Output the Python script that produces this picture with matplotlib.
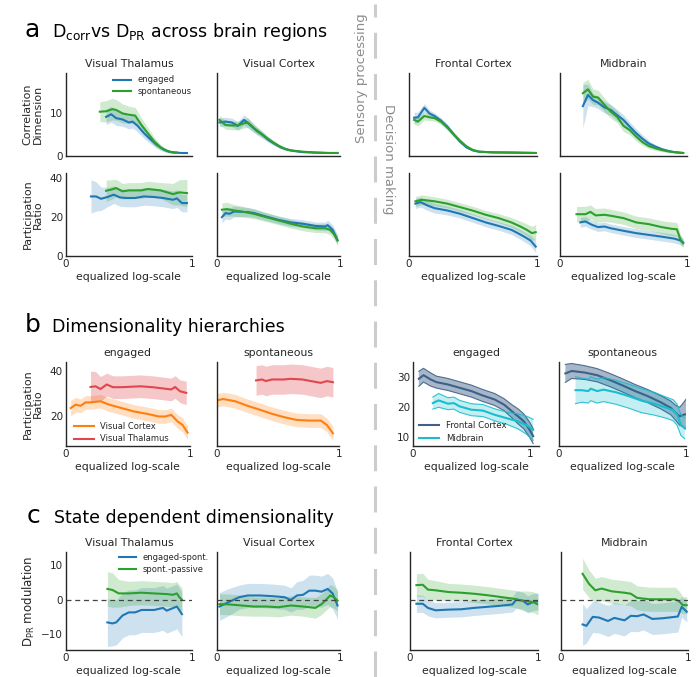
import matplotlib as mpl
mpl.use('Agg')
import matplotlib.pyplot as plt
from matplotlib.lines import Line2D

# ---------------- data ----------------
# panel a, correlation dimension (engaged / spontaneous)
vt_cd_eng_x = [0.32, 0.36, 0.40, 0.45, 0.50, 0.53, 0.57, 0.62, 0.67, 0.72, 0.77, 0.82, 0.87, 0.92, 0.96]
vt_cd_eng = [9.1, 9.7, 8.8, 8.5, 7.8, 8.0, 7.0, 5.3, 3.9, 2.6, 1.6, 1.0, 0.8, 0.7, 0.7]
vt_cd_eng_err = [1.8, 1.8, 1.7, 1.6, 1.5, 1.5, 1.4, 1.2, 1.0, 0.8, 0.5, 0.3, 0.2, 0.15, 0.15]
vt_cd_spo_x = [0.27, 0.32, 0.37, 0.40, 0.45, 0.50, 0.55, 0.60, 0.65, 0.70, 0.75, 0.80, 0.85, 0.88]
vt_cd_spo = [10.3, 10.4, 10.9, 10.7, 9.9, 9.6, 9.4, 7.2, 5.3, 3.4, 2.0, 1.2, 0.8, 0.8]
vt_cd_spo_err = [2.3, 2.5, 2.5, 2.4, 2.2, 2.0, 1.9, 1.6, 1.3, 1.0, 0.6, 0.4, 0.2, 0.2]

vc_cd_eng_x = [0.02, 0.07, 0.12, 0.17, 0.22, 0.27, 0.32, 0.37, 0.42, 0.47, 0.52, 0.57, 0.62, 0.70, 0.80, 0.90, 0.98]
vc_cd_eng = [7.8, 8.0, 7.8, 7.0, 8.4, 7.2, 5.9, 4.9, 3.7, 2.8, 2.0, 1.5, 1.2, 0.9, 0.8, 0.7, 0.7]
vc_cd_eng_err = [1.0, 1.0, 1.0, 1.0, 1.2, 1.1, 0.9, 0.8, 0.6, 0.5, 0.4, 0.3, 0.2, 0.15, 0.1, 0.1, 0.1]
vc_cd_spo_x = [0.02, 0.07, 0.12, 0.17, 0.22, 0.25, 0.30, 0.35, 0.40, 0.45, 0.50, 0.55, 0.60, 0.70, 0.80, 0.90, 0.98]
vc_cd_spo = [8.4, 7.2, 7.1, 7.1, 7.6, 7.8, 6.5, 5.4, 4.3, 3.3, 2.4, 1.7, 1.3, 1.0, 0.8, 0.7, 0.7]
vc_cd_spo_err = [1.0, 1.0, 1.0, 1.0, 1.1, 1.1, 0.9, 0.8, 0.6, 0.5, 0.4, 0.3, 0.2, 0.15, 0.1, 0.1, 0.1]

fc_cd_x = [0.04, 0.07, 0.12, 0.16, 0.20, 0.25, 0.30, 0.35, 0.40, 0.45, 0.50, 0.55, 0.65, 0.80, 0.99]
fc_cd_eng = [8.9, 9.0, 11.2, 9.9, 9.3, 8.2, 6.8, 5.0, 3.3, 2.0, 1.3, 1.0, 0.85, 0.8, 0.7]
fc_cd_eng_err = [1.3, 1.2, 1.0, 0.8, 0.7, 0.7, 0.6, 0.5, 0.4, 0.3, 0.2, 0.15, 0.1, 0.1, 0.1]
fc_cd_spo = [8.4, 8.0, 9.3, 9.0, 8.8, 8.0, 6.6, 5.0, 3.5, 2.2, 1.4, 1.0, 0.85, 0.8, 0.7]
fc_cd_spo_err = [1.0, 1.0, 0.9, 0.8, 0.7, 0.7, 0.7, 0.6, 0.5, 0.4, 0.3, 0.2, 0.1, 0.1, 0.1]

mb_cd_x = [0.18, 0.22, 0.26, 0.30, 0.35, 0.40, 0.45, 0.50, 0.55, 0.60, 0.65, 0.70, 0.75, 0.80, 0.85, 0.90, 0.97]
mb_cd_eng = [11.6, 14.2, 13.0, 12.4, 11.3, 10.7, 9.5, 8.4, 6.8, 5.3, 4.0, 2.9, 2.2, 1.6, 1.2, 0.9, 0.7]
mb_cd_eng_err = [5.0, 2.5, 1.5, 1.4, 1.3, 1.3, 1.3, 1.2, 1.1, 1.0, 0.9, 0.7, 0.5, 0.4, 0.3, 0.2, 0.1]
mb_cd_spo = [14.6, 15.5, 13.8, 13.6, 11.9, 10.3, 9.1, 7.0, 6.0, 4.5, 3.2, 2.3, 1.8, 1.4, 1.1, 0.9, 0.7]
mb_cd_spo_err = [2.5, 2.3, 1.8, 1.7, 1.6, 1.5, 1.4, 1.3, 1.1, 1.0, 0.8, 0.6, 0.5, 0.4, 0.3, 0.2, 0.1]

# panel a, participation ratio
vt_pr_eng_x = [0.20, 0.24, 0.28, 0.33, 0.38, 0.43, 0.48, 0.55, 0.62, 0.70, 0.77, 0.85, 0.88, 0.92, 0.96]
vt_pr_eng = [30.5, 30.5, 29.3, 30.2, 31.4, 30.0, 29.7, 29.7, 30.5, 30.2, 29.7, 28.8, 29.5, 27.1, 27.1]
vt_pr_eng_err = [8.5, 7.5, 6.0, 5.0, 4.5, 4.5, 4.5, 4.5, 4.5, 4.5, 4.5, 4.5, 4.5, 4.5, 4.5]
vt_pr_spo_x = [0.32, 0.36, 0.40, 0.45, 0.50, 0.60, 0.65, 0.75, 0.85, 0.90, 0.96]
vt_pr_spo = [33.4, 34.0, 34.8, 33.1, 33.6, 33.6, 34.3, 33.6, 31.7, 32.6, 32.2]
vt_pr_spo_err = [5.5, 5.0, 4.5, 4.0, 4.0, 4.0, 4.0, 4.0, 5.5, 6.5, 7.0]

vc_pr_eng_x = [0.04, 0.07, 0.10, 0.14, 0.20, 0.25, 0.30, 0.40, 0.50, 0.60, 0.70, 0.80, 0.88, 0.90, 0.94, 0.96, 0.98]
vc_pr_eng = [19.9, 22.0, 21.6, 22.8, 22.6, 22.5, 22.0, 20.2, 18.5, 17.2, 16.5, 15.4, 15.1, 15.8, 13.4, 10.8, 8.2]
vc_pr_eng_err = [3.0, 3.0, 3.0, 2.8, 2.5, 2.3, 2.2, 2.0, 2.0, 2.0, 2.0, 2.0, 2.2, 2.5, 2.5, 2.5, 2.5]
vc_pr_spo_x = [0.04, 0.08, 0.14, 0.20, 0.30, 0.40, 0.50, 0.60, 0.70, 0.80, 0.88, 0.92, 0.95, 0.98]
vc_pr_spo = [23.7, 24.0, 23.3, 22.8, 21.6, 19.9, 18.2, 16.5, 15.1, 14.2, 14.2, 13.4, 11.3, 7.9]
vc_pr_spo_err = [3.5, 3.5, 3.0, 2.8, 2.5, 2.3, 2.2, 2.2, 2.2, 2.2, 2.3, 2.5, 2.5, 2.5]

fc_pr_eng_x = [0.05, 0.09, 0.15, 0.20, 0.30, 0.40, 0.50, 0.60, 0.70, 0.80, 0.85, 0.90, 0.95, 0.99]
fc_pr_eng = [26.8, 27.6, 25.7, 24.5, 23.3, 21.6, 19.4, 17.2, 15.4, 13.4, 11.7, 9.9, 7.9, 4.8]
fc_pr_eng_err = [2.5, 2.5, 2.5, 2.5, 2.3, 2.2, 2.2, 2.2, 2.2, 2.3, 2.5, 2.5, 2.8, 3.0]
fc_pr_spo_x = [0.05, 0.10, 0.20, 0.30, 0.40, 0.50, 0.60, 0.70, 0.80, 0.87, 0.92, 0.96, 0.99]
fc_pr_spo = [28.0, 28.8, 28.0, 26.8, 25.0, 23.2, 21.1, 19.4, 17.2, 15.1, 13.4, 11.7, 12.2]
fc_pr_spo_err = [2.5, 2.5, 2.3, 2.2, 2.2, 2.2, 2.2, 2.3, 2.5, 2.8, 3.0, 3.5, 4.0]

mb_pr_eng_x = [0.16, 0.20, 0.25, 0.30, 0.35, 0.40, 0.50, 0.60, 0.70, 0.80, 0.90, 0.95, 0.97]
mb_pr_eng = [17.2, 17.7, 16.0, 14.8, 15.1, 14.2, 12.9, 11.7, 10.8, 9.9, 8.9, 7.9, 6.9]
mb_pr_eng_err = [2.5, 2.5, 2.3, 2.2, 2.2, 2.2, 2.2, 2.2, 2.2, 2.2, 2.2, 2.2, 2.2]
mb_pr_spo_x = [0.13, 0.20, 0.24, 0.28, 0.35, 0.40, 0.50, 0.60, 0.70, 0.80, 0.88, 0.92, 0.95, 0.97]
mb_pr_spo = [21.4, 21.4, 22.6, 20.8, 21.1, 20.6, 19.4, 17.2, 16.3, 14.8, 13.9, 13.7, 8.2, 6.5]
mb_pr_spo_err = [4.0, 4.0, 3.5, 3.5, 3.5, 3.3, 3.2, 3.2, 3.2, 3.3, 3.5, 3.5, 2.5, 2.0]

# panel b, hierarchies (participation ratio)
b_vt_eng_x = [0.20, 0.24, 0.28, 0.33, 0.38, 0.45, 0.60, 0.70, 0.85, 0.88, 0.92, 0.97]
b_vt_eng = [33.0, 33.3, 32.1, 34.1, 32.9, 32.9, 33.3, 32.9, 31.9, 33.0, 31.1, 30.4]
b_vt_eng_err = [7.0, 6.5, 5.5, 5.0, 5.0, 5.0, 5.0, 5.0, 5.0, 5.0, 5.0, 5.2]
b_vc_eng_x = [0.04, 0.08, 0.12, 0.16, 0.20, 0.28, 0.35, 0.45, 0.55, 0.65, 0.75, 0.80, 0.85, 0.90, 0.94, 0.98]
b_vc_eng = [23.7, 25.2, 24.7, 26.2, 26.2, 26.7, 25.2, 23.7, 22.2, 21.2, 20.0, 20.0, 20.7, 17.8, 16.3, 12.9]
b_vc_eng_err = [3.5, 3.2, 3.0, 3.0, 3.0, 3.0, 3.0, 3.0, 3.0, 3.0, 3.0, 3.0, 3.0, 3.0, 3.0, 3.0]
b_vt_spo_x = [0.32, 0.37, 0.40, 0.45, 0.55, 0.60, 0.70, 0.85, 0.90, 0.95]
b_vt_spo = [35.9, 36.3, 35.6, 36.3, 36.3, 36.6, 36.3, 34.8, 35.6, 35.1]
b_vt_spo_err = [6.5, 6.5, 6.5, 6.5, 6.5, 6.5, 6.5, 6.5, 6.5, 6.5]
b_vc_spo_x = [0.0, 0.05, 0.15, 0.25, 0.35, 0.45, 0.55, 0.65, 0.75, 0.85, 0.90, 0.95]
b_vc_spo = [27.1, 27.7, 26.7, 24.7, 23.0, 21.2, 19.7, 18.5, 18.2, 18.2, 16.3, 12.6]
b_vc_spo_err = [3.0, 3.0, 3.0, 3.0, 3.0, 3.0, 3.0, 3.0, 3.0, 3.0, 3.0, 3.0]

b_fc_eng_x = [0.05, 0.09, 0.15, 0.20, 0.30, 0.40, 0.50, 0.60, 0.70, 0.78, 0.85, 0.90, 0.95, 1.00, 1.03]
b_fc_eng = [29.4, 30.6, 29.2, 28.3, 27.5, 26.4, 25.3, 23.8, 22.5, 20.8, 18.5, 16.9, 15.2, 12.4, 10.3]
b_fc_eng_err = [2.5, 2.3, 2.2, 2.0, 2.0, 2.0, 2.0, 2.0, 2.0, 2.0, 2.2, 2.5, 2.5, 2.5, 2.5]
b_mb_eng_x = [0.17, 0.22, 0.30, 0.35, 0.40, 0.50, 0.60, 0.70, 0.80, 0.90, 0.97, 1.03]
b_mb_eng = [21.3, 22.2, 21.1, 21.3, 20.2, 19.1, 18.8, 17.4, 16.3, 15.2, 14.0, 12.4]
b_mb_eng_err = [2.0, 2.3, 2.0, 2.0, 2.0, 2.0, 2.0, 2.0, 2.0, 2.5, 3.0, 3.5]
b_fc_spo_x = [0.05, 0.10, 0.20, 0.30, 0.40, 0.50, 0.60, 0.70, 0.80, 0.88, 0.92, 0.95, 0.98, 1.00]
b_fc_spo = [31.2, 32.0, 31.5, 30.6, 29.0, 27.2, 25.3, 23.6, 21.6, 19.7, 18.0, 16.9, 17.4, 17.6]
b_fc_spo_err = [3.0, 2.5, 2.3, 2.2, 2.2, 2.2, 2.2, 2.2, 2.2, 2.3, 2.5, 3.0, 4.0, 5.0]
b_mb_spo_x = [0.13, 0.18, 0.23, 0.25, 0.30, 0.35, 0.45, 0.55, 0.65, 0.75, 0.85, 0.90, 0.93, 0.96, 0.99]
b_mb_spo = [25.6, 25.6, 25.3, 26.1, 25.3, 25.8, 24.9, 23.6, 22.1, 21.1, 19.7, 18.9, 17.4, 14.0, 12.9]
b_mb_spo_err = [4.5, 4.0, 4.0, 4.0, 4.0, 4.0, 4.0, 4.0, 4.0, 3.8, 3.5, 3.5, 3.5, 3.5, 3.5]

# panel c, state modulation of D_PR
c_vt_eng_x = [0.33, 0.37, 0.40, 0.45, 0.50, 0.55, 0.60, 0.70, 0.77, 0.80, 0.88, 0.92]
c_vt_eng = [-6.6, -6.9, -6.6, -4.6, -3.7, -3.7, -3.0, -3.0, -2.4, -3.2, -2.0, -4.2]
c_vt_eng_err = [7.0, 6.5, 6.5, 6.5, 6.5, 6.5, 6.5, 6.5, 6.5, 6.5, 6.5, 6.5]
c_vt_spo_x = [0.33, 0.37, 0.42, 0.50, 0.60, 0.70, 0.80, 0.85, 0.88, 0.90, 0.92]
c_vt_spo = [3.1, 2.8, 1.8, 1.8, 2.0, 1.8, 1.6, 1.4, 1.8, 0.7, 0.0]
c_vt_spo_err = [5.0, 5.0, 4.0, 3.5, 3.5, 3.5, 3.5, 3.5, 3.5, 3.5, 3.5]

c_vc_eng_x = [0.02, 0.06, 0.12, 0.18, 0.25, 0.35, 0.45, 0.55, 0.60, 0.65, 0.70, 0.75, 0.80, 0.85, 0.90, 0.94, 0.98]
c_vc_eng = [-2.0, -1.3, -0.3, 0.7, 1.2, 1.2, 1.0, 0.7, -0.1, 1.2, 1.4, 2.6, 2.6, 2.3, 3.1, 1.8, -1.7]
c_vc_eng_err = [4.0, 4.0, 3.8, 3.5, 3.5, 3.5, 3.5, 3.5, 3.5, 4.0, 4.2, 4.5, 4.5, 4.5, 4.5, 4.5, 4.0]
c_vc_spo_x = [0.02, 0.10, 0.20, 0.30, 0.40, 0.50, 0.60, 0.70, 0.80, 0.85, 0.88, 0.92, 0.95, 0.98]
c_vc_spo = [-1.3, -1.4, -1.7, -2.0, -2.0, -2.2, -1.7, -2.0, -2.4, -1.3, -0.3, 1.2, 0.7, -0.3]
c_vc_spo_err = [3.0, 3.0, 3.0, 2.8, 2.8, 2.8, 2.8, 2.8, 3.0, 3.0, 3.0, 3.2, 3.2, 3.0]

c_fc_x = [0.05, 0.10, 0.14, 0.20, 0.30, 0.40, 0.50, 0.60, 0.70, 0.80, 0.83, 0.88, 0.92, 0.96, 1.00]
c_fc_eng = [-1.2, -1.2, -2.4, -3.1, -2.9, -2.8, -2.4, -2.1, -1.8, -1.4, 0.0, -0.3, -1.4, -0.7, -0.5]
c_fc_eng_err = [2.5, 2.5, 2.3, 2.2, 2.2, 2.2, 2.2, 2.2, 2.2, 2.2, 2.5, 2.5, 2.5, 2.5, 2.5]
c_fc_spo = [4.2, 4.3, 2.9, 2.7, 2.2, 2.0, 1.7, 1.3, 0.8, 0.3, 0.1, -0.3, -0.5, -0.7, -1.4]
c_fc_spo_err = [3.3, 3.3, 3.0, 2.8, 2.5, 2.5, 2.5, 2.5, 2.5, 2.5, 2.5, 2.8, 3.0, 3.0, 3.0]

c_mb_eng_x = [0.17, 0.20, 0.25, 0.30, 0.37, 0.42, 0.50, 0.55, 0.60, 0.65, 0.72, 0.80, 0.92, 0.95, 0.99]
c_mb_eng = [-7.2, -7.6, -5.0, -5.2, -6.2, -5.3, -6.0, -4.7, -4.8, -4.3, -5.6, -5.4, -4.9, -2.1, -3.5]
c_mb_eng_err = [6.0, 5.0, 4.5, 4.5, 4.5, 4.5, 4.5, 4.5, 4.5, 4.5, 4.5, 4.5, 4.5, 3.0, 3.0]
c_mb_spo_x = [0.17, 0.22, 0.27, 0.32, 0.40, 0.50, 0.55, 0.60, 0.70, 0.80, 0.90, 0.93, 0.96, 0.99]
c_mb_spo = [7.5, 4.6, 2.7, 3.2, 2.4, 2.0, 1.7, 0.5, 0.1, 0.1, 0.1, -0.5, -1.6, -1.6]
c_mb_spo_err = [4.5, 4.0, 3.5, 3.5, 3.5, 3.5, 3.5, 3.5, 3.5, 3.5, 3.5, 3.0, 2.5, 2.5]

regions = ["Visual Thalamus", "Visual Cortex", "Frontal Cortex", "Midbrain"]

# ---------------- style ----------------
BLUE, GREEN = "#1f77b4", "#2ca02c"
ORANGE, RED = "#ff7f0e", "#e0474c"
SLATE, CYAN = "#3d6189", "#17becf"
TXT = "#262626"

plt.rcParams['font.family'] = ['DejaVu Sans']
plt.rcParams['text.color'] = TXT
plt.rcParams['axes.labelcolor'] = TXT
plt.rcParams['xtick.color'] = TXT
plt.rcParams['ytick.color'] = TXT

W, H = 700, 677
fig = plt.figure(figsize = (7, 6.77), dpi = 100)

def add_ax(l, r, t, b):
    ax = fig.add_axes([l / W, 1 - b / H, (r - l) / W, (b - t) / H])
    for s in ["top", "right"]:
        ax.spines[s].set_visible(False)
    for s in ["left", "bottom"]:
        ax.spines[s].set_color(TXT)
        ax.spines[s].set_linewidth(1.0)
    ax.tick_params(length = 0, pad = 2, labelsize = 7.5)
    ax.set_xlim(0, 1)
    return ax

def band(ax, x, y, e, color, label = None, alpha = 0.22, edge = False):
    lo = [m - d for m, d in zip(y, e)]
    hi = [m + d for m, d in zip(y, e)]
    if edge:
        ax.fill_between(x, lo, hi, facecolor = color, alpha = alpha, edgecolor = "none")
        ax.plot(x, lo, color = color, lw = 0.8, alpha = 0.9)
        ax.plot(x, hi, color = color, lw = 0.8, alpha = 0.9)
    else:
        ax.fill_between(x, lo, hi, color = color, alpha = alpha, lw = 0)
    ax.plot(x, y, color = color, lw = 1.5, label = label)

def xbottom(ax):
    ax.set_xticks([0, 1])
    ax.set_xticklabels(["0", "1"])
    ax.set_xlabel("equalized log-scale", fontsize = 7.8, labelpad = 2)

cols = [(65.7, 192), (217, 340), (409, 537), (560, 687)]

# ---------------- panel a ----------------
cd_data = [
    (vt_cd_eng_x, vt_cd_eng, vt_cd_eng_err, vt_cd_spo_x, vt_cd_spo, vt_cd_spo_err),
    (vc_cd_eng_x, vc_cd_eng, vc_cd_eng_err, vc_cd_spo_x, vc_cd_spo, vc_cd_spo_err),
    (fc_cd_x, fc_cd_eng, fc_cd_eng_err, fc_cd_x, fc_cd_spo, fc_cd_spo_err),
    (mb_cd_x, mb_cd_eng, mb_cd_eng_err, mb_cd_x, mb_cd_spo, mb_cd_spo_err),
]
pr_data = [
    (vt_pr_eng_x, vt_pr_eng, vt_pr_eng_err, vt_pr_spo_x, vt_pr_spo, vt_pr_spo_err),
    (vc_pr_eng_x, vc_pr_eng, vc_pr_eng_err, vc_pr_spo_x, vc_pr_spo, vc_pr_spo_err),
    (fc_pr_eng_x, fc_pr_eng, fc_pr_eng_err, fc_pr_spo_x, fc_pr_spo, fc_pr_spo_err),
    (mb_pr_eng_x, mb_pr_eng, mb_pr_eng_err, mb_pr_spo_x, mb_pr_spo, mb_pr_spo_err),
]

for i, (l, r) in enumerate(cols):
    ax = add_ax(l, r, 73, 156)
    ex, ey, ee, sx, sy, se = cd_data[i]
    band(ax, ex, ey, ee, BLUE, "engaged")
    band(ax, sx, sy, se, GREEN, "spontaneous")
    ax.set_ylim(0, 19.3)
    ax.set_xticks([])
    ax.set_title(regions[i], fontsize = 7.8, pad = 4)
    if i == 0:
        ax.set_yticks([0, 10])
        ax.set_ylabel("Correlation\nDimension", fontsize = 8, labelpad = 5, linespacing = 1.0)
        ax.legend(loc = "upper left", bbox_to_anchor = (0.375, 0.97), frameon = False,
                  fontsize = 6, handlelength = 2.1, borderpad = 0, borderaxespad = 0,
                  labelspacing = 0.35, handletextpad = 0.8)
    else:
        ax.set_yticks([])

    ax = add_ax(l, r, 173, 256)
    ex, ey, ee, sx, sy, se = pr_data[i]
    band(ax, ex, ey, ee, BLUE)
    band(ax, sx, sy, se, GREEN)
    ax.set_ylim(0, 42.5)
    xbottom(ax)
    if i == 0:
        ax.set_yticks([0, 20, 40])
        ax.set_ylabel("Participation\nRatio", fontsize = 8, labelpad = 5, linespacing = 1.0)
    else:
        ax.set_yticks([])

# ---------------- panel b ----------------
ax = add_ax(65.7, 190, 362, 446)
band(ax, b_vc_eng_x, b_vc_eng, b_vc_eng_err, ORANGE, "Visual Cortex", alpha = 0.25)
band(ax, b_vt_eng_x, b_vt_eng, b_vt_eng_err, RED, "Visual Thalamus", alpha = 0.3)
ax.set_ylim(7, 44)
ax.set_yticks([20, 40])
ax.set_ylabel("Participation\nRatio", fontsize = 8, labelpad = 5, linespacing = 1.0)
ax.set_title("engaged", fontsize = 7.8, pad = 4)
xbottom(ax)
ax.legend(loc = "lower left", bbox_to_anchor = (0.07, 0.03), frameon = False,
          fontsize = 6, handlelength = 2.3, borderpad = 0, borderaxespad = 0,
          labelspacing = 0.45, handletextpad = 0.8)

ax = add_ax(217, 339, 362, 446)
band(ax, b_vc_spo_x, b_vc_spo, b_vc_spo_err, ORANGE, alpha = 0.25)
band(ax, b_vt_spo_x, b_vt_spo, b_vt_spo_err, RED, alpha = 0.3)
ax.set_ylim(7, 44)
ax.set_yticks([])
ax.set_title("spontaneous", fontsize = 7.8, pad = 4)
xbottom(ax)

ax = add_ax(413, 539, 362, 446)
band(ax, b_fc_eng_x, b_fc_eng, b_fc_eng_err, SLATE, "Frontal Cortex", alpha = 0.45, edge = True)
band(ax, b_mb_eng_x, b_mb_eng, b_mb_eng_err, CYAN, "Midbrain", alpha = 0.25, edge = True)
ax.set_xlim(0, 1.08)
ax.set_ylim(7, 35)
ax.set_yticks([10, 20, 30])
ax.set_title("engaged", fontsize = 7.8, pad = 4)
xbottom(ax)
ax.legend(loc = "lower left", bbox_to_anchor = (0.05, 0.03), frameon = False,
          fontsize = 6.2, handlelength = 2.3, borderpad = 0, borderaxespad = 0,
          labelspacing = 0.5, handletextpad = 0.8)

ax = add_ax(559, 686, 362, 446)
band(ax, b_fc_spo_x, b_fc_spo, b_fc_spo_err, SLATE, alpha = 0.45, edge = True)
band(ax, b_mb_spo_x, b_mb_spo, b_mb_spo_err, CYAN, alpha = 0.25, edge = True)
ax.set_ylim(7, 35)
ax.set_yticks([])
ax.set_title("spontaneous", fontsize = 7.8, pad = 4)
xbottom(ax)

# ---------------- panel c ----------------
mod_data = [
    (c_vt_eng_x, c_vt_eng, c_vt_eng_err, c_vt_spo_x, c_vt_spo, c_vt_spo_err),
    (c_vc_eng_x, c_vc_eng, c_vc_eng_err, c_vc_spo_x, c_vc_spo, c_vc_spo_err),
    (c_fc_x, c_fc_eng, c_fc_eng_err, c_fc_x, c_fc_spo, c_fc_spo_err),
    (c_mb_eng_x, c_mb_eng, c_mb_eng_err, c_mb_spo_x, c_mb_spo, c_mb_spo_err),
]
ccols = [(65.7, 192), (217, 340), (410, 538), (561, 688)]
for i, (l, r) in enumerate(ccols):
    ax = add_ax(l, r, 552, 650)
    ex, ey, ee, sx, sy, se = mod_data[i]
    band(ax, ex, ey, ee, BLUE, "engaged-spont.")
    band(ax, sx, sy, se, GREEN, "spont.-passive")
    ax.axhline(0, color = "#444444", lw = 0.9, ls = (0, (4, 3)), zorder = 5)
    ax.set_ylim(-14.6, 13.8)
    ax.set_title(regions[i], fontsize = 7.8, pad = 4)
    xbottom(ax)
    if i == 0:
        ax.set_yticks([-10, 0, 10])
        ax.set_ylabel(r"$\mathregular{D_{PR}}$ modulation", fontsize = 8.5, labelpad = 3)
        ax.legend(loc = "upper left", bbox_to_anchor = (0.42, 0.99), frameon = False,
                  fontsize = 6, handlelength = 2.1, borderpad = 0, borderaxespad = 0,
                  labelspacing = 0.35, handletextpad = 0.8)
    else:
        ax.set_yticks([])

# ---------------- headings and separator ----------------
def heading(x, y, letter, text):
    fig.text(x / W, 1 - y / H, letter, fontsize = 18, va = "baseline", color = "black")
    fig.text((x + 27) / W, 1 - y / H, text, fontsize = 12.5, va = "baseline", color = "black")

heading(25, 37, "a", r"$\mathregular{D_{corr}}$vs $\mathregular{D_{PR}}$ across brain regions")
heading(25, 332, "b", "Dimensionality hierarchies")
heading(27, 523, "c", "State dependent dimensionality")

fig.add_artist(Line2D([375 / W, 375 / W], [0, 1 - 4 / H], color = "#cccccc", lw = 2.2,
                      ls = (0, (8.5, 5))))
fig.text(361 / W, 1 - 78 / H, "Sensory processing", rotation = 90, fontsize = 9.5,
         color = "#8c8c8c", ha = "center", va = "center")
fig.text(389 / W, 1 - 159 / H, "Decision making", rotation = -90, fontsize = 9.5,
         color = "#8c8c8c", ha = "center", va = "center")

fig.savefig("out.png", dpi = 100)
plt.close()
